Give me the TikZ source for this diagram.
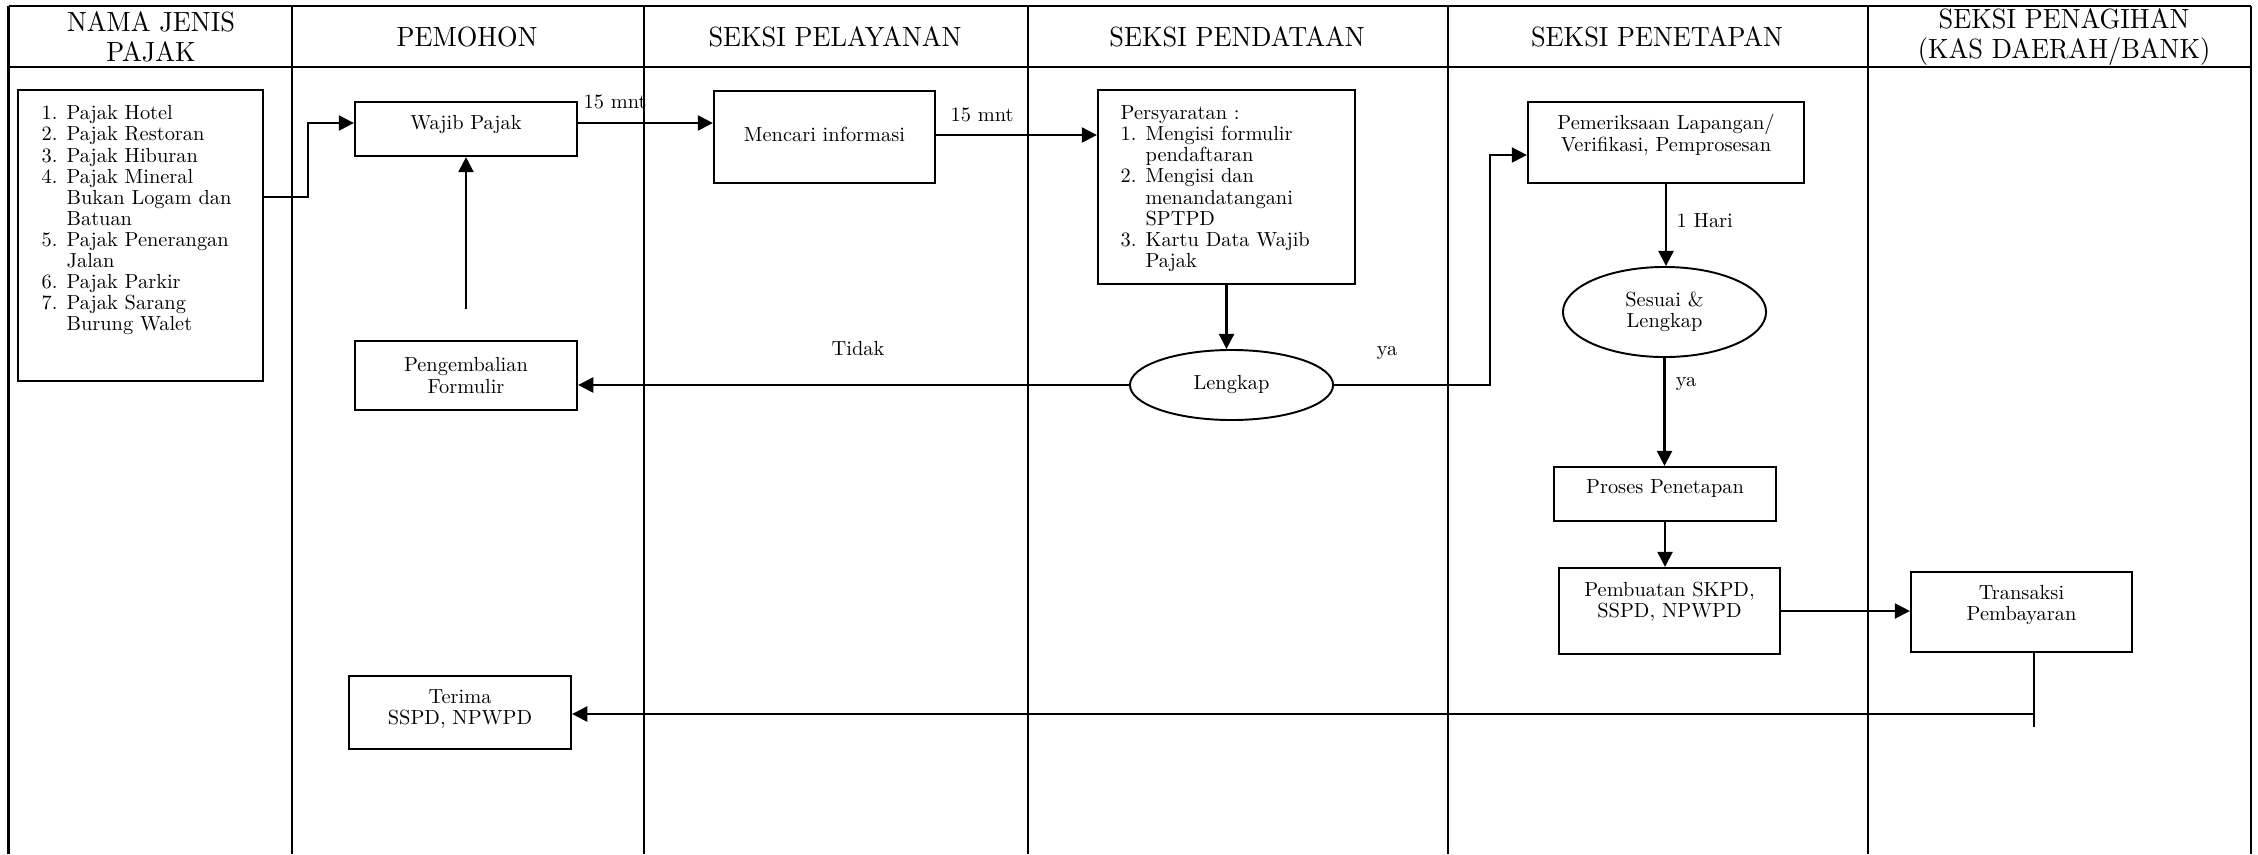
\documentclass[tikz,border=0pt]{standalone}
\usepackage{fontspec}
\usetikzlibrary{arrows.meta,shapes.geometric}
\newfontfamily\lmBody{lmroman10-regular.otf}
\newfontfamily\lmHead{lmroman10-regular.otf}[FakeStretch=0.95]
\newcommand\myBody{\lmBody\fontsize{5.8}{6}\selectfont}
\newcommand\myHdr{\lmHead\fontsize{7.9}{8.4}\selectfont}
\begin{document}
\begin{tikzpicture}[x=0.01cm,y=-0.01cm,
  lane/.style={line width=0.6pt},
  box/.style={draw, line width=0.6pt, rectangle, inner sep=0pt, align=center, font=\myBody},
  oval/.style={draw, ellipse, line width=0.55pt, inner sep=0pt, align=center, font=\myBody},
  txt/.style={inner sep=0pt, align=center, font=\myBody},
  listtxt/.style={inner sep=0pt, align=left, font=\myBody, anchor=north west},
  hdr/.style={inner sep=0pt, align=center, font=\myHdr},
  arr/.style={line width=0.6pt, -{Triangle[length=4.3pt,width=4.3pt]}},
  con/.style={line width=0.6pt},
  lift/.style={text depth=#1}
]
\useasboundingbox (0,0) rectangle (2258,854);

% ---- lanes ----
\draw[lane] (8.5,6) -- (2251,6);
\draw[lane] (8.5,67) -- (2251,67);
\foreach \xx in {8.5,292,644,1028,1448,1868,2251}
  \draw[lane] (\xx,6) -- (\xx,854);

% ---- headers ----
\node[hdr] (h1) at (151,37) {NAMA JENIS\\PAJAK};
\node[hdr] (h2) at (467,37) {PEMOHON};
\node[hdr] (h3) at (835,37) {SEKSI PELAYANAN};
\node[hdr] (h4) at (1237,37) {SEKSI PENDATAAN};
\node[hdr] (h5) at (1657,37) {SEKSI PENETAPAN};
\node[hdr] (h6) at (2064,37) {SEKSI PENAGIHAN\\(KAS DAERAH/BANK)};

% ---- boxes ----
\node[box, minimum width=2.45cm, minimum height=2.91cm] (list) at (140.5,235.5) {};
\node[listtxt] (listt) at (41,105) {1. Pajak Hotel\\2. Pajak Restoran\\3. Pajak Hiburan\\4. Pajak Mineral\\\phantom{4. }Bukan Logam dan\\\phantom{4. }Batuan\\5. Pajak Penerangan\\\phantom{5. }Jalan\\6. Pajak Parkir\\7. Pajak Sarang\\\phantom{7. }Burung Walet};

\node[box, minimum width=2.22cm, minimum height=0.54cm, lift=4pt] (wp) at (466,129) {Wajib Pajak};
\node[box, minimum width=2.21cm, minimum height=0.92cm, lift=1.7pt] (mc) at (824.5,137) {Mencari informasi};
\node[box, minimum width=2.57cm, minimum height=1.94cm] (ps) at (1226.5,187) {};
\node[listtxt] (pst) at (1120,105) {Persyaratan :\\1. Mengisi formulir\\\phantom{1. }pendaftaran\\2. Mengisi dan\\\phantom{2. }menandatangani\\\phantom{2. }SPTPD\\3. Kartu Data Wajib\\\phantom{3. }Pajak};

\node[oval, minimum width=2.03cm, minimum height=0.70cm] (lk) at (1231.5,385) {Lengkap};
\node[box, minimum width=2.22cm, minimum height=0.69cm] (pg) at (466,375.5) {Pengembalian\\Formulir};

\node[box, minimum width=2.76cm, minimum height=0.81cm, lift=5.5pt] (pm) at (1666,142.5) {Pemeriksaan Lapangan/\\Verifikasi, Pemprosesan};
\node[oval, minimum width=2.03cm, minimum height=0.90cm] (sl) at (1664.5,312) {Sesuai \&\\Lengkap};
\node[box, minimum width=2.22cm, minimum height=0.54cm, lift=4pt] (pr) at (1665,494) {Proses Penetapan};
\node[box, minimum width=2.21cm, minimum height=0.86cm, lift=6.5pt] (pb) at (1669.5,611) {Pembuatan SKPD,\\SSPD, NPWPD};
\node[box, minimum width=2.21cm, minimum height=0.80cm, lift=5.2pt] (tr) at (2021.5,612) {Transaksi\\Pembayaran};
\node[box, minimum width=2.22cm, minimum height=0.73cm, lift=3.1pt] (te) at (460,712.5) {Terima\\SSPD, NPWPD};

% ---- helper coordinates ----
\coordinate (k1) at (308,197);
\coordinate (k2) at (308,123);
\coordinate (y1) at (0,123);
\coordinate (y2) at (0,135);
\coordinate (k3) at (1490,155);
\coordinate (k4) at (466,309);
\coordinate (k5) at (2034,727);
\coordinate (k6) at (2034,714);

% ---- connectors ----
\draw[arr] (list.east |- k1) -- (k1) -- (k2) -- (wp.west |- k2);
\draw[arr] (wp.east |- y1) -- (mc.west |- y1);
\draw[arr] (mc.east |- y2) -- (ps.west |- y2);
\draw[arr] (ps.south) -- (ps.south |- lk.north);
\draw[arr] (lk.west) -- (pg.east |- lk.west);
\draw[arr] (lk.east) -| (k3) -- (pm.west |- k3);
\draw[arr] (pm.south) -- (pm.south |- sl.north);
\draw[arr] (sl.south) -- (sl.south |- pr.north);
\draw[arr] (k4) -- (wp.south);
\draw[arr] (pr.south) -- (pr.south |- pb.north);
\draw[arr] (pb.east) -- (tr.west |- pb.east);
\draw[con] (tr.south -| k5) -- (k5);
\draw[arr] (k6) -- (te.east |- k6);

% ---- labels ----
\node[txt, anchor=base west] (m1) at (583,108) {15 mnt};
\node[txt, anchor=base west] (m2) at (950,121) {15 mnt};
\node[txt, anchor=base] (td) at (858,355) {Tidak};
\node[txt, anchor=base] (ya1) at (1387,355) {ya};
\node[txt, anchor=base west] (hr) at (1676,227) {1 Hari};
\node[txt, anchor=base] (ya2) at (1686,386) {ya};
\end{tikzpicture}
\end{document}
